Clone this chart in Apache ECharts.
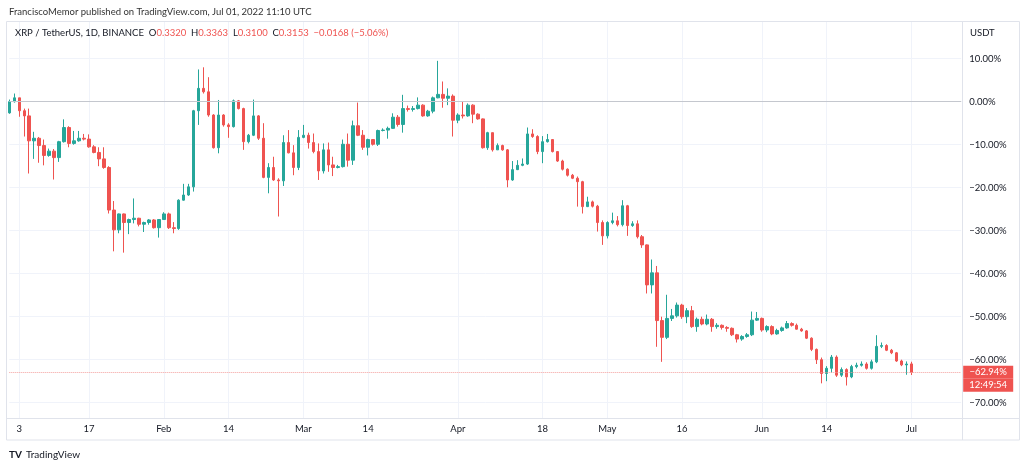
<!DOCTYPE html>
<html>
<head>
<meta charset="utf-8">
<title>XRP / TetherUS, 1D, BINANCE</title>
<script src="https://cdn.jsdelivr.net/npm/echarts@6/dist/echarts.min.js"></script>
<style>
  html, body { margin: 0; padding: 0; background: #fff; }
  #main { width: 1024px; height: 469px; }
</style>
</head>
<body>
<div id="main"></div>
<script>
// XRP / TetherUS daily candles, 1 Jan - 1 Jul 2022, percent vs the 1 Jan close
var startDay = Date.UTC(2022, 0, 1);
var dayCount = 192; // 182 trading days + empty room on the right

var opens = [
  -2.6, 0, 0.9, -2.1, -3.3, -9.1, -8.5, -10.2, -12.5, -11.5,
  -13.0, -9.3, -6.0, -9.7, -9.1, -8.5, -8.7, -10.5, -11.8, -13.3,
  -15.3, -25.2, -29.8, -26.1, -28.1, -27.4, -27.1, -28.5, -28.1, -27.5,
  -29.3, -27.4, -26.1, -29.3, -29.5, -22.9, -21.7, -19.8, -2.1, 3.1,
  2.3, -3.1, -10.7, -3.1, -5.4, -5.8, 0.2, -1.6, -9.3, -7.8,
  -3.3, -8.5, -17.6, -15.3, -18.2, -18.4, -9.5, -11.9, -15.3, -8.3,
  -7.8, -9.5, -11.6, -16.1, -11.2, -14.7, -15.3, -15.1, -9.9, -13.6,
  -5.6, -7.8, -10.6, -8.8, -9.9, -6.7, -6.6, -6.2, -3.6, -5.3,
  -1.6, -1.8, -1.6, -0.8, -3.3, -2.2, 0.9, 1.7, 0.8, 1.3,
  -4.3, -3.1, -3.3, -0.8, -2.9, -4.0, -10.7, -7.2, -11.2, -10.2,
  -11.2, -18.2, -15.8, -14.8, -14.5, -7.5, -8.1, -11.6, -9.3, -8.8,
  -11.6, -13.8, -15.7, -17.1, -17.8, -18.6, -24.4, -23.3, -24.3, -28.1,
  -31.2, -28.1, -27.7, -28.6, -24.2, -28.8, -28.4, -31.4, -33.3, -42.6,
  -39.8, -50.9, -54.8, -50.4, -49.8, -47.3, -50.0, -48.6, -52.3, -50.6,
  -51.7, -50.6, -52.3, -52.0, -52.5, -52.7, -54.2, -55.2, -54.6, -54.2,
  -50.8, -50.4, -53.1, -52.3, -54.0, -53.2, -52.6, -51.6, -52.0, -52.9,
  -53.3, -55.0, -57.6, -60.0, -63.2, -62.0, -59.4, -63.6, -62.3, -64.0,
  -61.6, -61.3, -61.0, -62.0, -60.5, -56.9, -56.7, -57.8, -58.4, -60.3,
  -61.2, -60.98
];
var highs = [
  0.5, 1.9, 0.9, -1.6, -1.6, -7.0, -8.2, -8.8, -10.9, -11.0,
  -9.1, -4.1, -5.7, -6.8, -6.8, -7.5, -7.6, -10.1, -10.6, -10.6,
  -15.0, -23.1, -26.0, -26.0, -27.2, -22.5, -27.0, -27.9, -27.3, -27.3,
  -27.3, -25.7, -25.8, -28.0, -22.7, -19.1, -19.1, -1.9, 7.5, 8.0,
  5.7, -2.9, 0.4, -2.9, -5.0, 0.5, 0.4, -1.4, -7.5, 0.5,
  -3.1, -5.0, -14.3, -12.8, -17.8, -7.8, -6.6, -10.1, -6.6, -5.4,
  -7.2, -7.4, -9.7, -9.7, -9.5, -12.8, -14.7, -8.8, -7.4, -4.4,
  -0.2, -6.6, -8.6, -8.7, -6.5, -6.2, -5.8, -2.7, -3.1, 1.6,
  -0.9, -1.0, 1.0, -0.6, -1.9, 1.2, 9.5, 4.7, 3.1, 1.7,
  -2.7, 0.0, -0.4, -0.6, -2.7, -3.9, -7.0, -7.6, -9.7, -10.0,
  -11.0, -13.8, -13.6, -13.2, -6.0, -6.4, -7.8, -8.0, -7.5, -8.8,
  -11.5, -13.5, -15.5, -16.8, -17.4, -18.4, -22.1, -23.0, -24.0, -27.6,
  -27.8, -25.8, -26.6, -22.9, -24.0, -27.8, -27.6, -31.0, -33.2, -36.7,
  -38.2, -50.0, -44.9, -48.2, -46.7, -47.0, -48.0, -47.5, -50.2, -50.0,
  -49.5, -50.3, -51.5, -51.8, -52.2, -52.5, -54.0, -54.3, -53.8, -48.8,
  -48.9, -50.2, -52.0, -52.0, -52.8, -52.3, -51.0, -51.3, -51.6, -52.6,
  -53.1, -54.8, -57.4, -59.5, -61.5, -58.9, -59.0, -61.8, -62.0, -61.2,
  -60.7, -60.4, -60.6, -60.0, -54.3, -56.0, -56.4, -57.5, -58.2, -60.0,
  -60.4, -60.47
];
var lows = [
  -2.8, -0.2, -3.5, -8.1, -16.7, -13.3, -14.2, -14.8, -12.8, -18.1,
  -14.0, -9.5, -10.6, -10.0, -9.3, -9.0, -10.7, -12.0, -15.0, -15.6,
  -26.0, -34.8, -30.6, -35.1, -30.8, -28.3, -29.0, -30.3, -28.6, -29.5,
  -31.6, -27.5, -29.6, -30.6, -29.8, -23.0, -21.9, -20.9, -5.4, 1.9,
  -3.5, -10.9, -12.0, -5.8, -8.4, -6.0, -1.8, -11.2, -9.7, -8.0,
  -8.9, -17.8, -21.3, -18.4, -26.7, -19.6, -12.0, -17.1, -15.9, -8.5,
  -10.9, -12.0, -18.2, -16.7, -16.3, -17.3, -15.5, -15.3, -15.1, -14.7,
  -8.0, -11.2, -12.5, -10.2, -10.3, -6.9, -8.6, -6.3, -5.8, -7.2,
  -2.3, -2.3, -1.8, -3.5, -3.5, -2.7, 0.8, -1.4, -0.8, -8.1,
  -5.0, -3.9, -3.5, -5.0, -4.2, -10.9, -11.2, -11.6, -11.2, -11.4,
  -19.9, -18.4, -15.9, -15.0, -14.7, -8.4, -12.2, -14.3, -9.5, -11.8,
  -14.0, -16.0, -17.4, -18.0, -24.4, -26.0, -24.5, -24.6, -30.2, -33.3,
  -31.8, -28.5, -29.0, -29.0, -31.2, -29.1, -31.8, -34.0, -44.6, -44.6,
  -57.0, -60.5, -55.2, -51.0, -50.2, -50.5, -51.5, -52.6, -53.5, -52.0,
  -52.0, -53.5, -52.8, -53.0, -53.5, -54.5, -56.0, -55.6, -54.9, -54.5,
  -51.0, -53.5, -53.6, -54.3, -54.2, -53.5, -52.8, -52.3, -53.0, -53.5,
  -55.2, -58.0, -61.0, -65.5, -65.0, -63.0, -64.0, -64.0, -66.0, -64.3,
  -62.0, -61.6, -62.3, -62.3, -60.8, -57.3, -58.0, -58.7, -60.5, -61.5,
  -63.5, -63.56
];
var closes = [
  0, 0.9, -2.1, -3.3, -9.1, -8.5, -10.2, -12.5, -11.5, -13.0,
  -9.3, -6.0, -9.7, -9.1, -8.5, -8.7, -10.5, -11.8, -13.3, -15.3,
  -25.2, -29.8, -26.1, -28.1, -27.4, -27.1, -28.5, -28.1, -27.5, -29.3,
  -27.4, -26.1, -29.3, -29.5, -22.9, -21.7, -19.8, -2.1, 3.1, 2.3,
  -3.1, -10.7, -3.1, -5.4, -5.8, 0.2, -1.6, -9.3, -7.8, -3.3,
  -8.5, -17.6, -15.3, -18.2, -18.4, -9.5, -11.9, -15.3, -8.3, -7.8,
  -9.5, -11.6, -16.1, -11.2, -14.7, -15.3, -15.1, -9.9, -13.6, -5.6,
  -7.8, -10.6, -8.8, -9.9, -6.7, -6.6, -6.2, -3.6, -5.3, -1.6,
  -1.8, -1.6, -0.8, -3.3, -2.2, 0.9, 1.7, 0.8, 1.3, -4.3,
  -3.1, -3.3, -0.8, -2.9, -4.0, -10.7, -7.2, -11.2, -10.2, -11.2,
  -18.2, -15.8, -14.8, -14.5, -7.5, -8.1, -11.6, -9.3, -8.8, -11.6,
  -13.8, -15.7, -17.1, -17.8, -18.6, -24.4, -23.3, -24.3, -28.1, -31.2,
  -28.1, -27.7, -28.6, -24.2, -28.8, -28.4, -31.4, -33.3, -42.6, -39.8,
  -50.9, -54.8, -50.4, -49.8, -47.3, -50.0, -48.6, -52.3, -50.6, -51.7,
  -50.6, -52.3, -52.0, -52.5, -52.7, -54.2, -55.2, -54.6, -54.2, -50.8,
  -50.4, -53.1, -52.3, -54.0, -53.2, -52.6, -51.6, -52.0, -52.9, -53.3,
  -55.0, -57.6, -60.0, -63.2, -62.0, -59.4, -63.6, -62.3, -64.0, -61.6,
  -61.3, -61.0, -62.0, -60.5, -56.9, -56.7, -57.8, -58.4, -60.3, -61.2,
  -61.0, -62.94
];

var tickDates = ['2022-01-03', '2022-01-17', '2022-02-01', '2022-02-14', '2022-03-01', '2022-03-14',
  '2022-04-01', '2022-04-18', '2022-05-01', '2022-05-16', '2022-06-01', '2022-06-14', '2022-07-01'];
var tickLabels = ['3', '17', 'Feb', '14', 'Mar', '14', 'Apr', '18', 'May', '16', 'Jun', '14', 'Jul'];

var lastValue = -62.94;
var lastTime = '12:49:54';

var font = 'Lato, "Noto Sans", sans-serif';
var fontSize = 9.5;
var textColor = '#131722';
var upColor = '#26a69a';
var downColor = '#ef5350';
var gridColor = '#f0f3fa';
var frameColor = '#e0e3eb';

var myChart = echarts.init(document.getElementById('main'));

// category dates, one per day
var dates = [];
for (var i = 0; i < dayCount; i++) {
  dates.push(new Date(startDay + i * 86400000).toISOString().slice(0, 10));
}

// echarts candlestick order: open, close, low, high
var candles = [];
for (var i = 0; i < closes.length; i++) {
  var o = opens[i], c = closes[i];
  candles.push([o, c, Math.min(lows[i], o, c), Math.max(highs[i], o, c)]);
}

function isTick(idx, val) {
  return tickDates.indexOf(val) >= 0;
}
function pct(v) {
  return (v < 0 ? '\u2212' : '') + Math.abs(v).toFixed(2) + '%';
}

var option = {
  backgroundColor: '#ffffff',
  animation: false,
  grid: [
    { left: 9.3, right: 62.8, top: 15.7, bottom: 23.3 },
    { left: 9.3, right: 62.8, top: 418, height: 22 }
  ],
  xAxis: [
    {
      type: 'category', gridIndex: 0, data: dates, boundaryGap: false,
      axisLine: { show: false }, axisTick: { show: false }, axisLabel: { show: false },
      splitLine: { show: true, interval: isTick, lineStyle: { color: gridColor, width: 1 } }
    },
    {
      type: 'category', gridIndex: 1, data: dates, boundaryGap: false, position: 'top', z: 10,
      axisLine: { show: false }, axisTick: { show: false }, splitLine: { show: false },
      axisLabel: {
        show: true, inside: true, margin: 6, interval: isTick,
        color: textColor, fontSize: fontSize, fontFamily: font,
        formatter: function (v) { return tickLabels[tickDates.indexOf(v)]; }
      }
    }
  ],
  yAxis: [
    {
      type: 'value', gridIndex: 0, position: 'right', min: -80, max: 20, interval: 10,
      axisLine: { show: false }, axisTick: { show: false },
      splitLine: { show: true, showMinLine: false, showMaxLine: false, lineStyle: { color: gridColor, width: 1 } },
      axisLabel: {
        margin: 8, color: textColor, fontSize: fontSize, fontFamily: font,
        formatter: function (v) { return (v >= -70 && v <= 10) ? pct(v) : ''; }
      }
    },
    { type: 'value', gridIndex: 1, show: false }
  ],
  series: [{
    type: 'candlestick',
    xAxisIndex: 0, yAxisIndex: 0,
    data: candles,
    barWidth: 3,
    clip: false,
    itemStyle: {
      color: upColor, color0: downColor,
      borderColor: upColor, borderColor0: downColor, borderWidth: 1
    },
    emphasis: { disabled: true },
    markLine: {
      silent: true, symbol: ['none', 'none'], animation: false,
      data: [
        { yAxis: 0, lineStyle: { color: '#c4c7ce', width: 1.2, type: 'solid' }, label: { show: false } },
        {
          yAxis: lastValue,
          lineStyle: { color: '#f4a09e', width: 1, type: 'dotted' },
          label: {
            show: true, position: 'end', distance: 2, lineHeight: 13,
            formatter: '\n{a|' + pct(lastValue) + '}\n{b|' + lastTime + '}',
            rich: {
              a: { color: '#fff', backgroundColor: downColor, width: 50, height: 13, lineHeight: 13, align: 'center', fontSize: fontSize, fontFamily: font },
              b: { color: '#fff', backgroundColor: downColor, width: 50, height: 13, lineHeight: 13, align: 'center', fontSize: fontSize, fontFamily: font }
            }
          }
        }
      ]
    }
  }],
  graphic: [
    // hide grid lines outside the chart frame
    { type: 'rect', z: 1, shape: { x: 0, y: 0, width: 963, height: 21.5 }, style: { fill: '#fff' } },
    { type: 'rect', z: 1, shape: { x: 0, y: 418.5, width: 963, height: 51 }, style: { fill: '#fff' } },
    // frame and separators
    { type: 'rect', z: 3, shape: { x: 6.5, y: 21.5, width: 1013, height: 418.5 }, style: { fill: 'none', stroke: frameColor, lineWidth: 1 } },
    { type: 'line', z: 3, shape: { x1: 962.5, y1: 21.5, x2: 962.5, y2: 440 }, style: { stroke: frameColor, lineWidth: 1 } },
    { type: 'line', z: 3, shape: { x1: 6.5, y1: 418.5, x2: 1019.5, y2: 418.5 }, style: { stroke: frameColor, lineWidth: 1 } },
    // texts
    {
      type: 'text', z: 5, x: 9, y: 12,
      style: { text: 'FranciscoMemor published on TradingView.com, Jul 01, 2022 11:10 UTC', fill: '#333', fontSize: fontSize, fontFamily: font, verticalAlign: 'middle' }
    },
    {
      type: 'text', z: 5, x: 15, y: 33,
      style: {
        text: '{k|XRP / TetherUS, 1D, BINANCE  O}{r|0.3320}{k|  H}{r|0.3363}{k|  L}{r|0.3100}{k|  C}{r|0.3153}{r|  \u22120.0168 (\u22125.06%)}',
        fontSize: fontSize, fontFamily: font, verticalAlign: 'middle',
        rich: {
          k: { fill: textColor, color: textColor, fontSize: fontSize, fontFamily: font },
          r: { fill: downColor, color: downColor, fontSize: fontSize, fontFamily: font }
        }
      }
    },
    {
      type: 'text', z: 5, x: 970, y: 33,
      style: { text: 'USDT', fill: textColor, fontSize: fontSize, fontFamily: font, verticalAlign: 'middle' }
    },
    {
      type: 'text', z: 5, x: 9, y: 455,
      style: { text: 'TV', fill: textColor, fontSize: 10, fontWeight: 'bold', fontFamily: font, verticalAlign: 'middle' }
    },
    {
      type: 'text', z: 5, x: 26, y: 455,
      style: { text: 'TradingView', fill: textColor, fontSize: 10, fontFamily: font, verticalAlign: 'middle' }
    }
  ]
};

myChart.setOption(option);
window.onresize = function () {
  myChart.resize();
};
</script>
</body>
</html>
